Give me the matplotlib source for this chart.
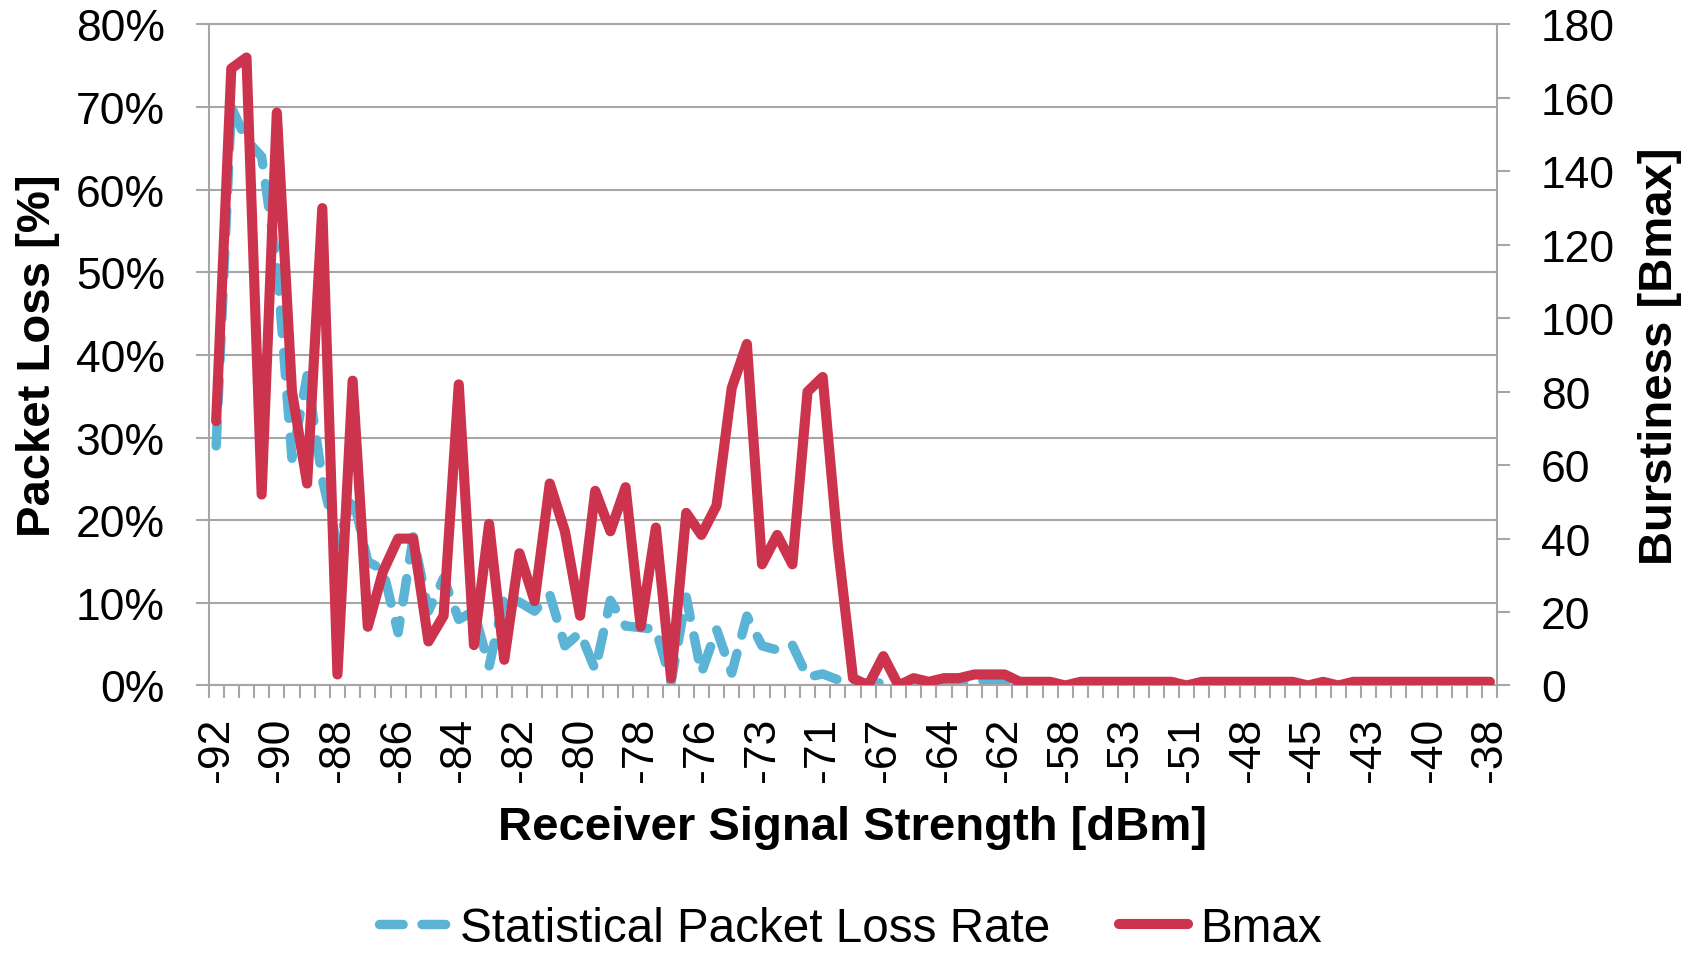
"""
Packet loss rate and burstiness vs. receiver signal strength
"""

import matplotlib.pyplot as plt
import numpy as np
from matplotlib.lines import Line2D

plt.rcParams['font.family'] = ['Liberation Sans', 'DejaVu Sans']

# category axis: 85 RSSI bins, only every 4th one is labelled
rssi_labels = ['-92', '-90', '-88', '-86', '-84', '-82', '-80', '-78', '-76', '-73', '-71',
               '-67', '-64', '-62', '-58', '-53', '-51', '-48', '-45', '-43', '-40', '-38']

# statistical packet loss rate [%]
loss_rate = [29, 70, 66, 64, 51, 27.5, 37.5, 25, 17, 23,
             15, 14, 6.4, 18, 9, 13, 8, 9, 2.3, 10.7,
             10.1, 9, 11, 4.8, 6.4, 1.9, 10.3, 7.2, 7, 6.8,
             0.4, 10.7, 1.5, 6.8, 1.5, 8.4, 4.8, 4.3, 4.9, 1.0,
             1.4, 0.7, 0.4, 0.3, 0.3, 0.2, 0.3, 0.2, 0.4, 0.5,
             0.6, 0.6, 0.6, 0, 0, 0, 0, 0, 0, 0,
             0, 0, 0, 0, 0, 0, 0, 0, 0, 0,
             0, 0, 0, 0, 0, 0, 0, 0, 0, 0,
             0, 0, 0, 0, 0]

# maximum burst length
bmax = [72, 168, 171, 52, 156, 80, 55, 130, 3, 83,
        16, 31, 40, 40, 12, 19, 82, 11, 44, 7,
        36, 23, 55, 42, 19, 53, 42, 54, 16, 43,
        2, 47, 41, 49, 81, 93, 33, 41, 33, 80,
        84, 38, 2, 0, 8, 0, 2, 1, 2, 2,
        3, 3, 3, 1, 1, 1, 0, 1, 1, 1,
        1, 1, 1, 1, 0, 1, 1, 1, 1, 1,
        1, 1, 0, 1, 0, 1, 1, 1, 1, 1,
        1, 1, 1, 1, 1]

grey = '#A6A6A6'
blue = '#5BB4D6'
red = '#CC344E'
dash = (0, (2.5, 2.0))

x = np.arange(len(bmax))

fig = plt.figure(figsize=(17.04, 9.54), dpi=100)
ax = fig.add_axes([0.1224, 0.2804, 0.7564, 0.6929])
ax2 = ax.twinx()

ax.plot(x, loss_rate, color=blue, lw=6.8, linestyle=dash,
        dash_capstyle='round', dash_joinstyle='round')
ax2.plot(x, bmax, color=red, lw=7.3, solid_capstyle='round', solid_joinstyle='round')

ax.set_xlim(-0.5, len(bmax) - 0.5)
ax.set_ylim(0, 80)
ax2.set_ylim(0, 180)

ax.set_yticks(range(0, 81, 10))
ax.set_yticklabels([f'{v}%' for v in range(0, 81, 10)])
ax2.set_yticks(range(0, 181, 20))

ax.set_xticks(x[::4])
ax.set_xticklabels(rssi_labels, rotation=90)
ax.set_xticks(np.arange(-0.5, len(bmax), 1), minor=True)

ax.tick_params(axis='x', which='major', length=0, pad=22.5, labelsize=32)
ax.tick_params(axis='x', which='minor', length=9.4, width=1.5, color=grey)
ax.tick_params(axis='y', length=9.4, width=1.5, color=grey, pad=22, labelsize=32)
ax2.tick_params(axis='y', length=9.4, width=1.5, color=grey, pad=22, labelsize=32)

ax.grid(axis='y', color=grey, lw=1.5)
ax.set_axisbelow(True)

for side in ['left', 'bottom', 'top']:
    ax.spines[side].set_color(grey)
    ax.spines[side].set_linewidth(1.5)
ax.spines['right'].set_visible(False)
for side in ['left', 'bottom', 'top']:
    ax2.spines[side].set_visible(False)
ax2.spines['right'].set_color(grey)
ax2.spines['right'].set_linewidth(1.5)

fig.text(853 / 1704, 1 - 828 / 954, 'Receiver Signal Strength [dBm]',
         ha='center', va='center', fontsize=34, fontweight='bold')
fig.text(38 / 1704, 1 - 356 / 954, 'Packet Loss [%]', rotation=90,
         ha='center', va='center', fontsize=34, fontweight='bold')
fig.text(1660 / 1704, 1 - 356 / 954, 'Burstiness [Bmax]', rotation=90,
         ha='center', va='center', fontsize=34, fontweight='bold')

handles = [Line2D([], [], color=blue, lw=6.8, linestyle=dash, dash_capstyle='round'),
           Line2D([], [], color=red, lw=7.3, solid_capstyle='round')]
fig.legend(handles, ['Statistical Packet Loss Rate', 'Bmax'], loc='center',
           bbox_to_anchor=(0.499, 0.026), ncol=2, frameon=False, fontsize=34.3,
           handlelength=1.45, handletextpad=0.25, columnspacing=1.45,
           borderpad=0, borderaxespad=0)

fig.savefig('out.png', dpi=100)
